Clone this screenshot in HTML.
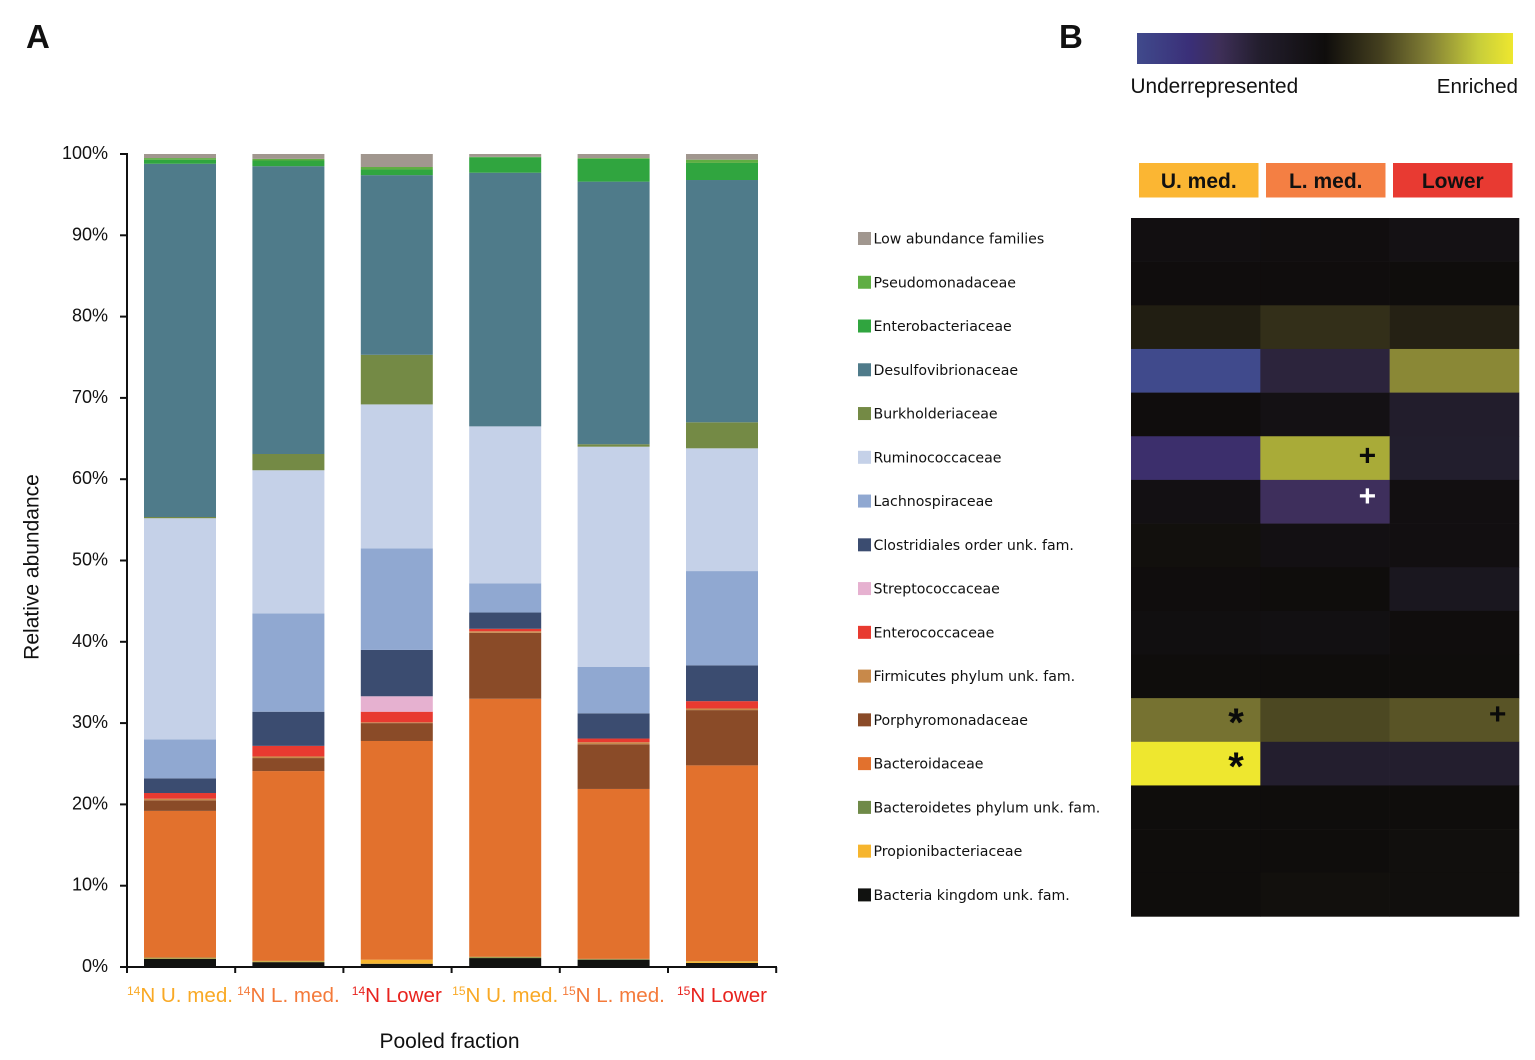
<!DOCTYPE html>
<html lang="en">
<head>
<meta charset="utf-8">
<title>Relative abundance by pooled fraction and enrichment heatmap</title>
<style>
  html, body { margin: 0; padding: 0; background: #fff; }
  #stage { display: block; width: 1535px; height: 1060px; }
  text { font-family: "Liberation Sans", sans-serif; fill: #111; }
  .legend-text { font-family: "DejaVu Sans", sans-serif; font-size: 14.15px; }
</style>
</head>
<body>
<svg id="stage" xmlns="http://www.w3.org/2000/svg" width="1535" height="1060" viewBox="0 0 1535 1060">
  <rect x="0" y="0" width="1535" height="1060" fill="#ffffff"/>
  <text x="26" y="48" font-size="33" font-weight="700">A</text>
  <text x="1059" y="48" font-size="33" font-weight="700">B</text>
  <text transform="translate(38.5,567) rotate(-90)" text-anchor="middle" font-size="21">Relative abundance</text>
  <text x="449.5" y="1048" text-anchor="middle" font-size="21">Pooled fraction</text>
  <defs>
    <linearGradient id="scale-gradient" x1="0" x2="1" y1="0" y2="0"></linearGradient>
  </defs>
  <rect x="1137" y="33" width="376" height="31" fill="url(#scale-gradient)"/>
  <text x="1130.5" y="93" font-size="20.8">Underrepresented</text>
  <text x="1518" y="93" text-anchor="end" font-size="20.6">Enriched</text>
  <g id="bars"></g>
  <g id="axes"></g>
  <g id="legend"></g>
  <g id="heat-headers"></g>
  <g id="heatmap"></g>
  <g id="heat-marks"></g>
</svg>
<script>
// ---- Panel A data (percent of each pooled fraction) ----
const categories = ["U. med.", "L. med.", "Lower", "U. med.", "L. med.", "Lower"];
const isotopes = ["14", "14", "14", "15", "15", "15"];
const yTickLabels = ["0%", "10%", "20%", "30%", "40%", "50%", "60%", "70%", "80%", "90%", "100%"];

const bacteriaKingdomUnk = [1.0, 0.6, 0.4, 1.1, 0.9, 0.5];
const propionibacteriaceae = [0.05, 0.1, 0.5, 0.05, 0.03, 0.2];
const bacteroidetesUnk = [0.1, 0.05, 0, 0.1, 0.07, 0.02];
const bacteroidaceae = [18.05, 23.35, 26.9, 31.75, 20.9, 24.08];
const porphyromonadaceae = [1.3, 1.6, 2.2, 8.1, 5.5, 6.8];
const firmicutesUnk = [0.2, 0.2, 0.1, 0.2, 0.25, 0.2];
const enterococcaceae = [0.7, 1.3, 1.3, 0.3, 0.45, 0.9];
const streptococcaceae = [0, 0, 1.9, 0, 0, 0];
const clostridialesUnk = [1.8, 4.2, 5.7, 2.0, 3.1, 4.4];
const lachnospiraceae = [4.8, 12.1, 12.5, 3.6, 5.7, 11.6];
const ruminococcaceae = [27.2, 17.6, 17.7, 19.3, 27.1, 15.1];
const burkholderiaceae = [0.15, 2.0, 6.1, 0, 0.3, 3.2];
const desulfovibrionaceae = [43.45, 35.4, 22.1, 31.2, 32.3, 29.8];
const enterobacteriaceae = [0.5, 0.7, 0.7, 1.9, 2.8, 2.1];
const pseudomonadaceae = [0.2, 0.2, 0.3, 0.05, 0.1, 0.4];
const lowAbundance = [0.5, 0.6, 1.6, 0.35, 0.5, 0.7];

// ---- Panel B data (enrichment score, -1 under-represented to +1 enriched) ----
const heatColumns = ["U. med.", "L. med.", "Lower"];
const heatLowAbundance = [-0.05, -0.03, -0.08];
const heatPseudomonadaceae = [-0.01, -0.01, -0.005];
const heatEnterobacteriaceae = [0.1, 0.2, 0.12];
const heatDesulfovibrionaceae = [-1, -0.42, 0.58];
const heatBurkholderiaceae = [-0.01, -0.08, -0.33];
const heatRuminococcaceae = [-0.66, 0.7, -0.34];
const heatLachnospiraceae = [-0.07, -0.58, -0.05];
const heatClostridialesUnk = [0.015, -0.07, -0.05];
const heatStreptococcaceae = [-0.01, -0.005, -0.2];
const heatEnterococcaceae = [-0.04, -0.06, -0.01];
const heatFirmicutesUnk = [0, 0, 0];
const heatPorphyromonadaceae = [0.5, 0.33, 0.38];
const heatBacteroidaceae = [1, -0.35, -0.35];
const heatBacteroidetesUnk = [0, 0, 0];
const heatPropionibacteriaceae = [-0.005, -0.005, 0.01];
const heatBacteriaKingdomUnk = [-0.005, 0.015, 0.01];

const heatSymbols = ["+", "+", "*", "+", "*"];
const heatSymbolRows = [5, 6, 11, 11, 12];
const heatSymbolCols = [1, 1, 0, 2, 0];

const familyNames = ["Low abundance families", "Pseudomonadaceae", "Enterobacteriaceae", "Desulfovibrionaceae", "Burkholderiaceae", "Ruminococcaceae", "Lachnospiraceae", "Clostridiales order unk. fam.", "Streptococcaceae", "Enterococcaceae", "Firmicutes phylum unk. fam.", "Porphyromonadaceae", "Bacteroidaceae", "Bacteroidetes phylum unk. fam.", "Propionibacteriaceae", "Bacteria kingdom unk. fam."];
const familyColors = ["#a1978f", "#5fae43", "#30a53f", "#4f7b8a", "#748a45", "#c5d1e8", "#90a8d1", "#3b4c70", "#e6b1d0", "#e83a30", "#c8894a", "#8a4b28", "#e2712d", "#6f8a48", "#f6b52e", "#111210"];
const familySeries = [lowAbundance, pseudomonadaceae, enterobacteriaceae, desulfovibrionaceae, burkholderiaceae, ruminococcaceae, lachnospiraceae, clostridialesUnk, streptococcaceae, enterococcaceae, firmicutesUnk, porphyromonadaceae, bacteroidaceae, bacteroidetesUnk, propionibacteriaceae, bacteriaKingdomUnk];
const familyHeat = [heatLowAbundance, heatPseudomonadaceae, heatEnterobacteriaceae, heatDesulfovibrionaceae, heatBurkholderiaceae, heatRuminococcaceae, heatLachnospiraceae, heatClostridialesUnk, heatStreptococcaceae, heatEnterococcaceae, heatFirmicutesUnk, heatPorphyromonadaceae, heatBacteroidaceae, heatBacteroidetesUnk, heatPropionibacteriaceae, heatBacteriaKingdomUnk];

// ---- Scales ----
const SVGNS = "http://www.w3.org/2000/svg";
const plotBottom = 967, plotTop = 154;
const yScale = v => plotBottom - (v / 100) * (plotBottom - plotTop);
const barLeft = i => 144 + i * 108.4;
const barWidth = 72;
const categoryColor = c => c === "U. med." ? "#f9a925" : c === "L. med." ? "#f47a3a" : "#e8231e";
const slug = s => s.toLowerCase().replace(/[^a-z0-9]+/g, "-").replace(/^-|-$/g, "");

const colorStops = [[-1, [64, 74, 140]], [-0.72, [58, 47, 120]], [-0.56, [62, 47, 88]], [-0.35, [35, 30, 46]], [0, [15, 13, 12]], [0.3, [69, 64, 31]], [0.55, [130, 127, 53]], [0.82, [200, 206, 58]], [1, [238, 231, 47]]];
function heatColor(v) {
  for (let i = 1; i < colorStops.length; i++) {
    if (v <= colorStops[i][0]) {
      const a = colorStops[i - 1], b = colorStops[i];
      const t = (v - a[0]) / (b[0] - a[0]);
      const c = a[1].map((x, k) => Math.round(x + (b[1][k] - x) * t));
      return "rgb(" + c.join(",") + ")";
    }
  }
  return "rgb(" + colorStops[colorStops.length - 1][1].join(",") + ")";
}
function make(tag, parent, attrs, text) {
  const el = document.createElementNS(SVGNS, tag);
  for (const k in attrs) el.setAttribute(k, attrs[k]);
  if (text !== undefined) el.textContent = text;
  parent.appendChild(el);
  return el;
}

// Color scale gradient
const gradient = document.getElementById("scale-gradient");
colorStops.forEach(s => {
  make("stop", gradient, { offset: ((s[0] + 1) / 2 * 100) + "%", "stop-color": heatColor(s[0]) });
});

// Stacked bars (bottom of the stack is the last family)
const barsGroup = document.getElementById("bars");
categories.forEach((cat, i) => {
  let cumulative = 0;
  for (let s = familySeries.length - 1; s >= 0; s--) {
    const value = familySeries[s][i];
    const y0 = yScale(cumulative);
    const y1 = yScale(cumulative + value);
    cumulative += value;
    if (value <= 0) continue;
    const seg = make("rect", barsGroup, { x: barLeft(i), y: y1, width: barWidth, height: y0 - y1, fill: familyColors[s] });
    
    
  }
});

// Axes
const axesGroup = document.getElementById("axes");
const yAxisLine = make("line", axesGroup, { x1: 127, x2: 127, y1: plotTop - 1, y2: plotBottom + 1, stroke: "#111", "stroke-width": 2 });


const xAxisLine = make("line", axesGroup, { x1: 120, x2: 777, y1: plotBottom, y2: plotBottom, stroke: "#111", "stroke-width": 2 });


yTickLabels.forEach((label, i) => {
  const v = i * 100 / (yTickLabels.length - 1);
  const tick = make("line", axesGroup, { x1: 120, x2: 127, y1: yScale(v), y2: yScale(v), stroke: "#111", "stroke-width": 2 });
  
  
  const txt = make("text", axesGroup, { x: 108, y: yScale(v) + 5, "text-anchor": "end", "font-size": 18 }, label);
  
  
});
for (let i = 0; i <= categories.length; i++) {
  const x = 127 + i * 108.2;
  const tick = make("line", axesGroup, { x1: x, x2: x, y1: plotBottom, y2: plotBottom + 6, stroke: "#111", "stroke-width": 2 });
  
  
}
categories.forEach((cat, i) => {
  const color = categoryColor(cat);
  const txt = make("text", axesGroup, { x: barLeft(i) + barWidth / 2, y: 1002, "text-anchor": "middle", "font-size": 20.6 });
  txt.style.fill = color;
  
  
  const sup = make("tspan", txt, { "font-size": 12, dy: -7 }, isotopes[i]);
  sup.style.fill = color;
  const main = make("tspan", txt, { dy: 7 }, "N " + cat);
  main.style.fill = color;
});

// Legend
const legendGroup = document.getElementById("legend");
familyNames.forEach((name, i) => {
  const y = 238.5 + i * 43.76;
  const swatch = make("rect", legendGroup, { x: 858, y: y - 6.5, width: 13, height: 13, fill: familyColors[i] });
  
  
  const label = make("text", legendGroup, { x: 873.5, y: y + 5, "class": "legend-text" }, name);
  
  
});

// Heatmap column headers
const headerGroup = document.getElementById("heat-headers");
const headerFills = ["#fbb633", "#f47f43", "#e83a32"];
heatColumns.forEach((col, i) => {
  const x = 1139 + i * 127;
  const box = make("rect", headerGroup, { x: x, y: 163, width: 119.5, height: 34.5, fill: headerFills[i] });
  
  
  const txt = make("text", headerGroup, { x: x + 59.75, y: 188, "text-anchor": "middle", "font-size": 21, "font-weight": 700 }, col);
  
  
});

// Heatmap cells
const heatGroup = document.getElementById("heatmap");
const heatLeft = 1131, heatTop = 218, cellW = 129.33, cellH = 43.65;
familyHeat.forEach((row, r) => {
  row.forEach((value, c) => {
    const cell = make("rect", heatGroup, { x: heatLeft + c * cellW, y: heatTop + r * cellH, width: cellW + 0.3, height: cellH + 0.3, fill: heatColor(value) });
    
    
  });
});

// Significance symbols
const marksGroup = document.getElementById("heat-marks");
heatSymbols.forEach((sym, i) => {
  const r = heatSymbolRows[i], c = heatSymbolCols[i];
  const isPlus = sym === "+";
  const cx = heatLeft + c * cellW + (isPlus ? 107 : 105);
  const cy = heatTop + r * cellH + (isPlus ? (r === 11 ? 26 : 29) : 38);
  const mark = make("text", marksGroup, { x: c === 2 ? cx + 1 : cx, y: r === 6 ? cy - 3 : cy, "text-anchor": "middle", "font-size": isPlus ? 30 : 40, "font-weight": 700 }, sym);
  mark.style.fill = (r === 6) ? "#ffffff" : "#0a0a0a";
  
  
});
</script>
</body>
</html>
